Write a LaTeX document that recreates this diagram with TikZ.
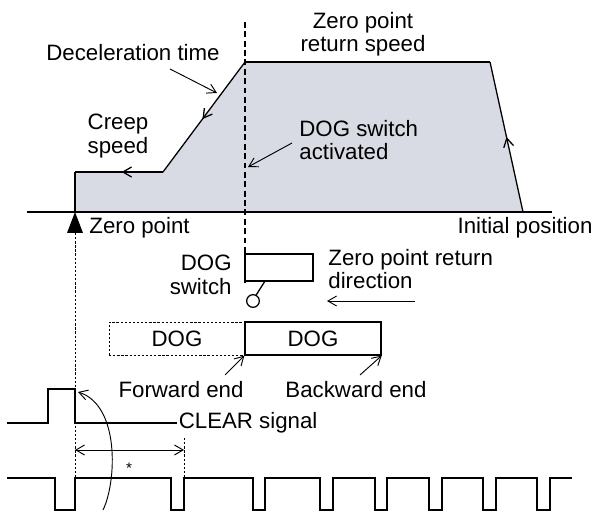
\documentclass[tikz,border=0pt]{standalone}
\usepackage{fontspec}
\setmainfont{Liberation Sans}
\usetikzlibrary{arrows.meta,decorations.markings}
\definecolor{areafill}{RGB}{216,219,227}

\begin{document}
\begin{tikzpicture}[
    every node/.style={font=\fontsize{19}{20}\selectfont, inner sep=1pt},
    line/.style={line width=1.1pt},
    thin line/.style={line width=0.8pt},
    barb/.style={-{Straight Barb[length=2.6mm,width=3mm]}},
    midarrow/.style={postaction={decorate}, decoration={markings,
        mark=at position #1 with {\arrow{Straight Barb[length=2.6mm,width=3mm]}}}},
    fine/.style={dash pattern=on 2pt off 1.5pt},
]
\useasboundingbox (0,0) rectangle (17.85,15.36);

% Speed profile
\coordinate (axl) at (0.81,9.0);
\coordinate (axr) at (16.56,9.0);
\coordinate (zp) at (2.25,9.0);
\coordinate (cs) at (2.25,10.2);
\coordinate (ce) at (4.89,10.2);
\coordinate (dt) at (7.35,13.5);
\coordinate (rt) at (14.7,13.5);
\coordinate (ip) at (15.69,9.0);

\fill[areafill] (zp) -- (cs) -- (ce) -- (dt) -- (rt) -- (ip) -- cycle;
\draw[line] (axl) -- (axr);
\draw[line] (zp) -- (cs);
\draw[line, midarrow=0.47] (ce) -- (cs);
\draw[line, midarrow=0.52] (dt) -- (ce);
\draw[line] (dt) -- (rt);
\draw[line, midarrow=0.5] (ip) -- (rt);

% DOG switch position
\coordinate (dogtop) at (7.35,14.7);
\coordinate (dogbar) at (7.35,7.89);
\draw[line, dash pattern=on 5pt off 3pt] (dogtop) -- (dogbar);

% Labels of the profile
\node (decel) at (3.99,13.77) {Deceleration time};
\coordinate (decelfrom) at (5.1,13.29);
\coordinate (decelto) at (6.51,12.57);
\draw[thin line, barb] (decelfrom) -- (decelto);

\node[align=center] (creep) at (3.54,11.28) {Creep\\speed};
\node[align=center] (zrs) at (10.89,14.34) {Zero point\\return speed};

\node[align=left, anchor=west] (dogact) at (8.94,11.16) {DOG switch\\activated};
\coordinate (actfrom) at (8.76,11.07);
\coordinate (actto) at (7.44,10.35);
\draw[thin line, barb] (actfrom) -- (actto);

\node (initpos) at (15.75,8.52) {Initial position};
\node[anchor=west] (zeropt) at (2.64,8.52) {Zero point};

% Zero point marker
\coordinate (zpbase) at (2.25,8.37);
\coordinate (zpdown) at (2.25,1.02);
\fill (zp) -- (2.01,8.37) -- (2.49,8.37) -- cycle;
\draw[thin line, fine] (zpbase) -- (zpdown);

% DOG switch
\coordinate (swlow) at (7.35,6.87);
\draw[line] (dogbar) -- (swlow);
\draw[line] (7.35,7.74) rectangle (9.39,6.93);
\coordinate (lever) at (7.95,6.93);
\coordinate (roller) at (7.59,6.33);
\draw[line] (lever) -- (7.68,6.5);
\draw[line, fill=white] (roller) circle (0.19);
\node[align=right, anchor=east] (dogsw) at (6.99,7.11) {DOG\\switch};

\node[align=left, anchor=west] (retdir) at (9.81,7.29) {Zero point return\\direction};
\coordinate (dirfrom) at (12.45,6.33);
\coordinate (dirto) at (9.81,6.33);
\draw[thin line, barb] (dirfrom) -- (dirto);

% DOG
\node[draw, thin line, fine, minimum width=4.08cm, minimum height=0.99cm] (dogpre) at (5.31,5.205) {DOG};
\node[draw, line, minimum width=4.08cm, minimum height=0.99cm] (dog) at (9.39,5.205) {DOG};

\node (fwd) at (5.43,3.66) {Forward end};
\coordinate (fwdfrom) at (6.75,4.11);
\draw[thin line, barb] (fwdfrom) -- (dog.south west);
\node (bwd) at (10.68,3.66) {Backward end};
\coordinate (bwdfrom) at (10.8,4.11);
\draw[thin line, barb] (bwdfrom) -- (dog.south east);

% CLEAR signal
\draw[line] (0.21,2.67) -- (1.44,2.67) -- (1.44,3.69) -- (2.25,3.69) -- (2.25,2.67) -- (5.31,2.67)
    node[right] (clear) {CLEAR signal};

% Pulses
\coordinate (cntend) at (5.52,2.22);
\coordinate (cntlow) at (5.52,1.02);
\draw[thin line, fine] (cntend) -- (cntlow);
\coordinate (spanl) at (2.25,1.86);
\coordinate (spanr) at (5.52,1.86);
\draw[thin line, {Straight Barb[length=2.6mm,width=3mm]}-{Straight Barb[length=2.6mm,width=3mm]}] (spanl) -- (spanr);
\node[font=\fontsize{13}{13}\selectfont] (star) at (3.87,1.32) {*};

\draw[line] (0.21,1.02) -| (1.65,0.06) -| (2.25,1.02) -| (5.13,0.06) -| (5.52,1.02)
    -| (7.59,0.06) -| (7.95,1.02) -| (9.6,0.06) -| (9.99,1.02)
    -| (11.25,0.06) -| (11.61,1.02) -| (12.87,0.06) -| (13.26,1.02)
    -| (14.49,0.06) -| (14.88,1.02) -| (16.11,0.06) -| (16.5,1.02) -- (17.16,1.02);

% Curved arrow
\coordinate (curvefrom) at (3.09,0.06);
\coordinate (curveto) at (2.34,3.6);
\draw[thin line, barb] (curvefrom) .. controls (3.5,0.9) and (3.6,3.2) .. (curveto);

\end{tikzpicture}
\end{document}
